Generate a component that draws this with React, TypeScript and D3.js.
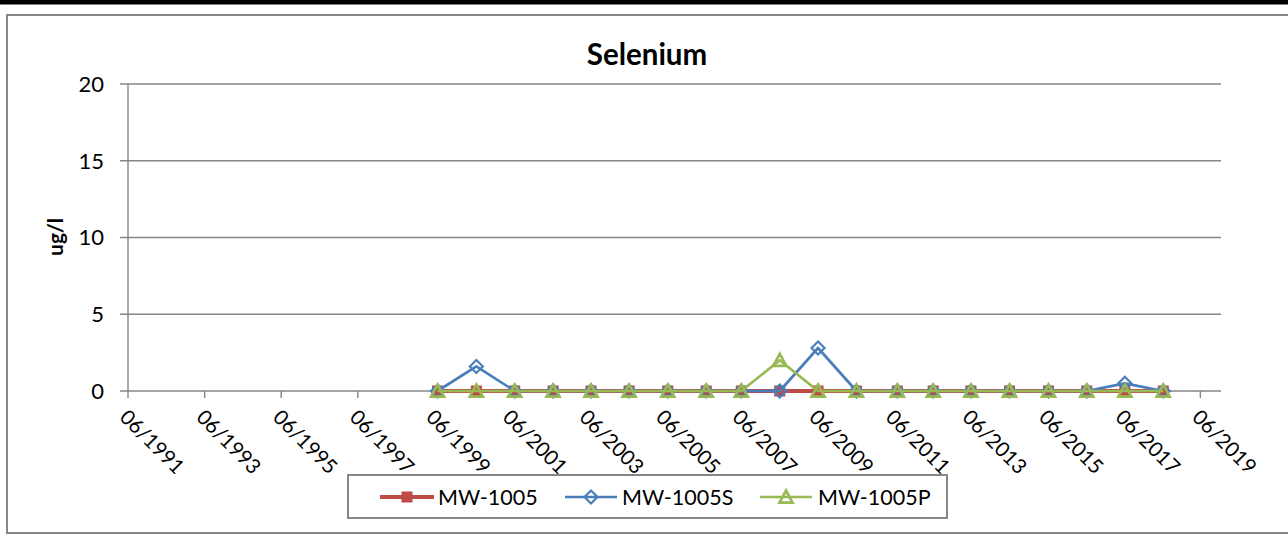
import React from "react";
import * as d3 from "d3";

const sampleDates: string[] = [
  "1999-07-01", "2000-07-05", "2001-07-06", "2002-07-07", "2003-07-04",
  "2004-07-01", "2005-07-05", "2006-07-06", "2007-06-06", "2008-06-07",
  "2009-06-07", "2010-06-08", "2011-07-03", "2012-06-09", "2013-06-04",
  "2014-06-07", "2015-06-14", "2016-06-13", "2017-06-11", "2018-06-12",
];
const mw1005: number[] = [0, 0, 0, 0, 0, 0, 0, 0, 0, 0, 0, 0, 0, 0, 0, 0, 0, 0, 0, 0];
const mw1005S: number[] = [0, 1.6, 0, 0, 0, 0, 0, 0, 0, 0, 2.8, 0, 0, 0, 0, 0, 0, 0, 0.5, 0];
const mw1005P: number[] = [0, 0, 0, 0, 0, 0, 0, 0, 0, 2.0, 0, 0, 0, 0, 0, 0, 0, 0, 0, 0];
const seriesNames: string[] = ["MW-1005", "MW-1005S", "MW-1005P"];
const yTicks: number[] = [0, 5, 10, 15, 20];
const xTickYears: number[] = [1991, 1993, 1995, 1997, 1999, 2001, 2003, 2005, 2007, 2009, 2011, 2013, 2015, 2017, 2019];
const title = "Selenium";
const yTitle = "ug/l";

const W = 1288;
const H = 535;
const FONT = "Lato, 'Open Sans', sans-serif";
const GRID = "#868686";
const colors = ["#BE4B48", "#4A7EBB", "#98B954"];

const parse = d3.timeParse("%Y-%m-%d");

function Marker({ kind, x, y, color }: { kind: number; x: number; y: number; color: string }) {
  if (kind === 0) {
    return <rect x={x - 5} y={y - 5} width={10} height={10} fill={color} stroke={color} strokeWidth={1} />;
  }
  if (kind === 1) {
    const r = 6.5;
    return (
      <path d={`M${x},${y - r}L${x + r},${y}L${x},${y + r}L${x - r},${y}Z`} fill="none" stroke={color} strokeWidth={2.2} />
    );
  }
  const s = 6.5;
  return (
    <path d={`M${x},${y - s}L${x + s},${y + s * 0.85}L${x - s},${y + s * 0.85}Z`} fill="none" stroke={color} strokeWidth={2.7} strokeLinejoin="miter" />
  );
}

export default function App() {
  const left = 128, right = 1221, top = 84, bottom = 391;
  const x = d3.scaleTime()
    .domain([new Date(1991, 5, 1), new Date(2019, 11, 15)])
    .range([left, right]);
  const y = d3.scaleLinear().domain([0, 20]).range([bottom, top]);
  const dates = sampleDates.map((s) => parse(s) as Date);
  const series = [mw1005, mw1005S, mw1005P];
  const widths = [4, 2.7, 2.7];
  const line = d3.line<[Date, number]>().x((d) => x(d[0])).y((d) => y(d[1]));
  const xTicks = xTickYears.map((yr) => new Date(yr, 5, 1));
  const fmt = d3.timeFormat("%m/%Y");

  const legendItems = [
    { lx1: 380, lx2: 434, tx: 438 },
    { lx1: 565, lx2: 617, tx: 622 },
    { lx1: 760, lx2: 812, tx: 818 },
  ];
  const ly = 497;

  return (
    <div style={{ position: "fixed", left: 0, top: 0, width: W, height: H, background: "#fff" }}>
      <svg width={W} height={H} style={{ display: "block" }} fontFamily={FONT}>
        <rect x={0} y={0} width={W} height={H} fill="#fff" />
        <rect x={0} y={0} width={W} height={4.5} fill="#000" />
        <rect x={7} y={15} width={W + 20} height={518} fill="none" stroke={GRID} strokeWidth={2} />
        <text x={647} y={65} textAnchor="middle" fontWeight="bold" fontSize={29.5} fill="#000">{title}</text>

        {yTicks.map((t) => (
          <g key={"y" + t}>
            <line x1={120} x2={right} y1={y(t)} y2={y(t)} stroke={GRID} strokeWidth={1.4} />
            <text x={104} y={y(t)} dy="0.36em" textAnchor="end" fontSize={22} fill="#000">{t}</text>
          </g>
        ))}
        <line x1={left} x2={left} y1={top} y2={bottom} stroke={GRID} strokeWidth={1.4} />
        {xTicks.map((d, i) => (
          <g key={"x" + i}>
            <line x1={x(d)} x2={x(d)} y1={bottom} y2={bottom + 7} stroke={GRID} strokeWidth={1.4} />
            <text transform={`translate(${x(d) + 1},${408}) rotate(45)`} dy="0.72em" textAnchor="start" fontSize={20.5} fill="#000">{fmt(d)}</text>
          </g>
        ))}
        <text transform={`translate(56,237) rotate(-90)`} textAnchor="middle" dy="0.35em" fontWeight="bold" fontSize={21} fill="#000">{yTitle}</text>

        {series.map((vals, si) => {
          const pts: [Date, number][] = dates.map((d, i) => [d, vals[i]]);
          return (
            <g key={"s" + si}>
              <path d={line(pts) || ""} fill="none" stroke={colors[si]} strokeWidth={widths[si]} strokeLinejoin="round" />
              {pts.map((p, i) => (
                <Marker key={i} kind={si} x={x(p[0])} y={y(p[1])} color={colors[si]} />
              ))}
            </g>
          );
        })}

        <rect x={348} y={475} width={599} height={43} fill="#fff" stroke={GRID} strokeWidth={2} />
        {legendItems.map((it, i) => (
          <g key={"l" + i}>
            <line x1={it.lx1} x2={it.lx2} y1={ly} y2={ly} stroke={colors[i]} strokeWidth={widths[i]} />
            <Marker kind={i} x={(it.lx1 + it.lx2) / 2} y={ly} color={colors[i]} />
            <text x={it.tx} y={ly} dy="0.36em" fontSize={21.5} fill="#000">{seriesNames[i]}</text>
          </g>
        ))}
      </svg>
    </div>
  );
}
